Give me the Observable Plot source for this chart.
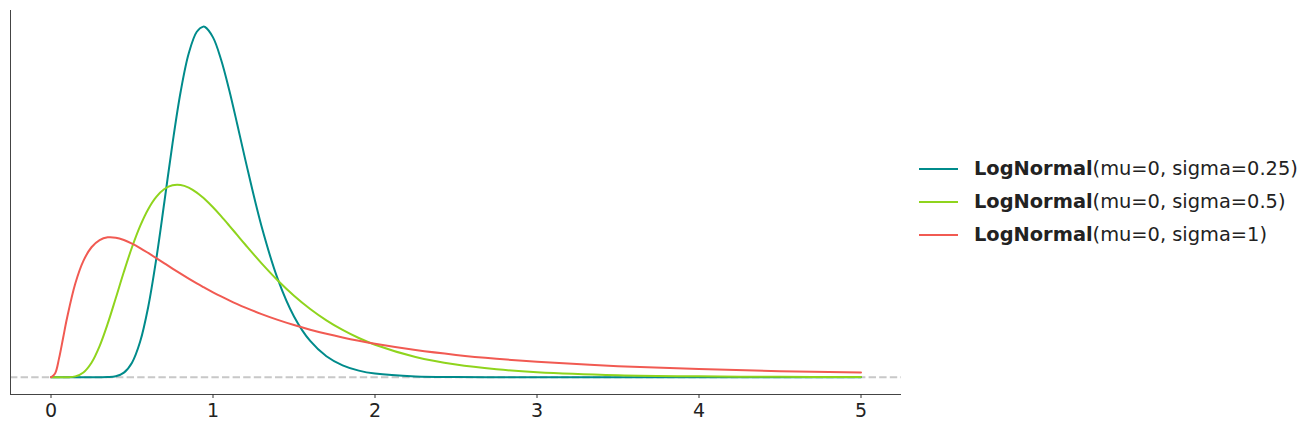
<!DOCTYPE html>
<html>
<head>
<meta charset="utf-8">
<script src="https://cdn.jsdelivr.net/npm/d3@7"></script>
<script src="https://cdn.jsdelivr.net/npm/@observablehq/plot@0.6"></script>
<style>
  html, body { margin: 0; padding: 0; background: #fff; }
  #wrap { position: relative; width: 1315px; height: 433px; font-family: "DejaVu Sans", sans-serif; }
  #wrap svg text { font-size: 19px !important; font-family: "DejaVu Sans", sans-serif !important; fill: #222; }
  #legend { position: absolute; left: 919px; top: 152px; font-size: 19.4px; color: #222; }
  .row { display: flex; align-items: center; height: 33px; }
  .swatch { width: 39px; height: 0; border-top: 2px solid; margin-right: 16px; }
  .row b { font-weight: bold; }
</style>
</head>
<body>
<div id="wrap"><div id="legend"></div></div>
<script>
const xs = [0, 0.025, 0.05, 0.075, 0.1, 0.15, 0.2, 0.25, 0.3, 0.35, 0.4, 0.45, 0.5, 0.55, 0.6, 0.65, 0.7, 0.75, 0.8, 0.85, 0.9, 0.94, 0.95, 1.0, 1.05, 1.1, 1.15, 1.2, 1.3, 1.4, 1.5, 1.6, 1.7, 1.8, 1.9, 2.0, 2.25, 2.5, 2.75, 3, 3.5, 4, 4.5, 5];
const sigma025 = [0, 0, 0, 0, 0, 0, 0, 0, 0.00005, 0.0007, 0.0048, 0.0216, 0.0683, 0.1663, 0.3299, 0.5561, 0.8240, 1.0973, 1.3394, 1.5198, 1.6223, 1.6464, 1.6448, 1.5958, 1.4911, 1.3490, 1.1868, 1.0194, 0.7076, 0.4608, 0.2856, 0.1703, 0.0987, 0.0559, 0.0311, 0.0171, 0.0037, 0.0008, 0.0002, 0, 0, 0, 0, 0];
const sigma05 = [0, 0, 0, 0, 0.0002, 0.0040, 0.0225, 0.0683, 0.1465, 0.2515, 0.3721, 0.4953, 0.6104, 0.7098, 0.7892, 0.8469, 0.8838, 0.9015, 0.9028, 0.8904, 0.8670, 0.8423, 0.8355, 0.7979, 0.7563, 0.7123, 0.6672, 0.6222, 0.5348, 0.4544, 0.3829, 0.3206, 0.2673, 0.2221, 0.1842, 0.1526, 0.0952, 0.0595, 0.0375, 0.0238, 0.0099, 0.0043, 0.0019, 0.0009];
const sigma1 = [0, 0.0177, 0.0898, 0.1857, 0.2816, 0.4399, 0.5463, 0.6104, 0.6442, 0.6570, 0.6555, 0.6445, 0.6275, 0.6067, 0.5836, 0.5594, 0.5348, 0.5104, 0.4864, 0.4632, 0.4408, 0.4236, 0.4194, 0.3989, 0.3795, 0.3610, 0.3435, 0.3270, 0.2965, 0.2693, 0.2450, 0.2233, 0.2039, 0.1865, 0.1709, 0.1569, 0.1276, 0.1049, 0.0870, 0.0727, 0.0520, 0.0382, 0.0286, 0.0219];
const seriesNames = ["mu=0, sigma=0.25", "mu=0, sigma=0.5", "mu=0, sigma=1"];
const seriesColors = ["#008b8b", "#8fd41d", "#f15a52"];
const xTicks = [0, 1, 2, 3, 4, 5];

const allSeries = [sigma025, sigma05, sigma1];
const data = [];
allSeries.forEach((ys, k) => xs.forEach((x, i) => data.push({x, y: ys[i], s: seriesNames[k]})));

const xDomain = [-0.25, 5.25];
const yDomain = [-0.081, 1.722];

const chart = Plot.plot({
  width: 1315,
  height: 433,
  marginLeft: 10,
  marginRight: 414,
  marginTop: 10,
  marginBottom: 39,
  style: {fontFamily: "DejaVu Sans, sans-serif", background: "#fff", color: "#222"},
  x: {domain: xDomain},
  y: {domain: yDomain},
  color: {domain: seriesNames, range: seriesColors},
  marks: [
    Plot.ruleY([0], {stroke: "#c8c8c8", strokeWidth: 2, strokeDasharray: "7.4,3.2"}),
    Plot.line(data, {x: "x", y: "y", z: "s", stroke: "s", strokeWidth: 2, curve: "catmull-rom"}),
    Plot.ruleX([xDomain[0]], {stroke: "#444", strokeWidth: 1}),
    Plot.ruleY([yDomain[0]], {stroke: "#444", strokeWidth: 1}),
    Plot.axisY({ticks: [], label: null}),
    Plot.axisX({ticks: xTicks, tickFormat: d => String(d), tickSize: 4, tickPadding: 5, label: null, stroke: "#333", fill: "#222"})
  ]
});
document.getElementById("wrap").prepend(chart);

const legend = document.getElementById("legend");
seriesNames.forEach((n, k) => {
  const row = document.createElement("div");
  row.className = "row";
  row.innerHTML = `<span class="swatch" style="border-color:${seriesColors[k]}"></span><span><b>LogNormal</b>(${n})</span>`;
  legend.appendChild(row);
});
</script>
</body>
</html>
